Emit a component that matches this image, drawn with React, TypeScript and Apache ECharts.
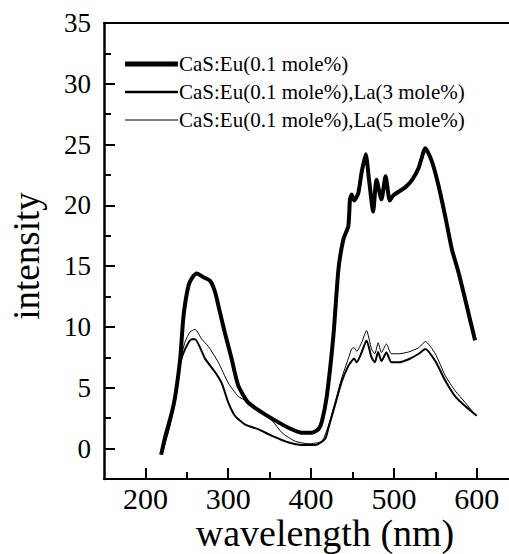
import React, { useEffect, useRef } from "react";
import * as echarts from "echarts";

const wavelengthEu = [219, 224, 232, 236, 242, 246, 252, 258, 262, 270, 278, 284, 290, 296, 304, 312, 324, 340, 357, 373, 389, 401, 409, 413, 419, 427, 433, 439, 445, 447, 449, 452, 457, 461, 466, 470, 475, 479, 485, 490, 495, 499, 514, 522, 530, 538, 546, 554, 562, 570, 578, 586, 592, 598];
const intensityEu = [-0.5, 1.0, 3.0, 4.3, 7.4, 10.9, 13.4, 14.2, 14.4, 14.1, 13.8, 12.9, 11.2, 9.5, 7.4, 5.2, 3.8, 3.0, 2.3, 1.7, 1.3, 1.3, 1.6, 2.2, 4.3, 9.3, 14.7, 17.2, 18.3, 20.5, 20.9, 20.4, 21.0, 22.7, 24.2, 22.1, 19.5, 22.1, 20.5, 22.4, 20.4, 20.8, 21.5, 22.1, 23.1, 24.7, 23.6, 21.6, 19.1, 16.4, 14.5, 12.3, 10.6, 8.9];

const wavelengthLa3 = [219, 228, 236, 242, 248, 256, 260, 272, 284, 292, 300, 308, 320, 336, 353, 373, 389, 405, 417, 421, 429, 437, 445, 449, 452, 455, 461, 467, 473, 477, 481, 485, 491, 497, 506, 518, 530, 538, 550, 562, 574, 586, 600];
const intensityLa3 = [-0.5, 1.6, 4.1, 7.0, 8.2, 9.0, 9.0, 7.4, 6.3, 5.4, 3.8, 2.7, 2.0, 1.6, 1.05, 0.5, 0.3, 0.3, 0.8, 1.7, 3.6, 5.5, 6.8, 7.2, 7.4, 7.1, 7.9, 8.9, 7.5, 7.1, 7.95, 7.2, 7.9, 7.1, 7.1, 7.35, 7.8, 8.2, 7.2, 5.6, 4.3, 3.5, 2.7];

const wavelengthLa5 = [219, 228, 236, 242, 248, 254, 260, 268, 276, 288, 300, 312, 322, 340, 353, 365, 381, 397, 413, 421, 429, 437, 445, 449, 452, 455, 461, 467, 473, 477, 481, 485, 491, 497, 506, 518, 530, 538, 550, 562, 574, 586, 598];
const intensityLa5 = [-0.5, 1.6, 4.1, 7.2, 8.8, 9.6, 9.8, 9.0, 8.4, 7.1, 5.4, 4.3, 3.9, 3.0, 2.3, 1.3, 0.6, 0.4, 0.6, 1.9, 3.8, 5.8, 7.4, 8.2, 8.3, 8.0, 8.7, 9.7, 8.2, 7.8, 8.7, 7.9, 8.6, 7.8, 7.8, 7.95, 8.3, 8.8, 7.8, 6.0, 4.75, 3.8, 2.8];

const seriesNames = [
  "CaS:Eu(0.1 mole%)",
  "CaS:Eu(0.1 mole%),La(3 mole%)",
  "CaS:Eu(0.1 mole%),La(5 mole%)",
];
const xMajorTicks = [200, 300, 400, 500, 600];
const xMinorTicks = [250, 350, 450, 550];
const yMajorTicks = [0, 5, 10, 15, 20, 25, 30, 35];
const yMinorTicks = [-2.5, 2.5, 7.5, 12.5, 17.5, 22.5, 27.5, 32.5];

const FONT = "serif";

function pairs(xs: number[], ys: number[]) {
  return xs.map((x, i) => [x, ys[i]]);
}

export default function App() {
  const ref = useRef<HTMLDivElement>(null);
  useEffect(() => {
    if (!ref.current) return;
    const chart = echarts.init(ref.current, undefined, { renderer: "svg" });
    const xMin = 150;
    const xMax = 639;
    const yMin = -2.5;
    const yMax = 35;
    const widths = [4, 2, 1];
    const legendWidths = [5, 2.5, 1];
    const legendY = [64, 92, 120];
    const dataSets = [
      pairs(wavelengthEu, intensityEu),
      pairs(wavelengthLa3, intensityLa3),
      pairs(wavelengthLa5, intensityLa5),
    ];
    const graphics: any[] = [];
    seriesNames.forEach((n, i) => {
      graphics.push({
        type: "line",
        shape: { x1: 125, y1: legendY[i], x2: 178, y2: legendY[i] },
        style: { stroke: "#000", lineWidth: legendWidths[i] },
      });
      graphics.push({
        type: "text",
        x: 179,
        y: legendY[i],
        style: { text: n, fontFamily: FONT, fontSize: 21, fill: "#000", verticalAlign: "middle", align: "left" },
      });
    });
    graphics.push({
      type: "text",
      x: 26,
      y: 256,
      rotation: Math.PI / 2,
      style: { text: "intensity", fontFamily: FONT, fontSize: 37, fill: "#000", align: "center", verticalAlign: "middle" },
    });
    graphics.push({
      type: "text",
      x: 325,
      y: 533,
      style: { text: "wavelength (nm)", fontFamily: FONT, fontSize: 38, fill: "#000", align: "center", verticalAlign: "middle" },
    });

    chart.setOption({
      animation: false,
      backgroundColor: "#fff",
      textStyle: { fontFamily: FONT },
      grid: { left: 104, top: 23, right: 0, bottom: 554 - 479, containLabel: false },
      xAxis: [
        {
          type: "value", min: xMin, max: xMax, position: "bottom",
          axisLine: { show: true, onZero: false, lineStyle: { color: "#000", width: 2 } },
          axisTick: { show: true, inside: true, length: 11, customValues: xMajorTicks, lineStyle: { color: "#000", width: 2 } },
          axisLabel: { show: true, customValues: xMajorTicks, color: "#000", fontSize: 30, fontFamily: FONT, margin: 4 },
          splitLine: { show: false },
        },
        {
          type: "value", min: xMin, max: xMax, position: "bottom",
          axisLine: { show: false, onZero: false },
          axisTick: { show: true, inside: true, length: 7, customValues: xMinorTicks, lineStyle: { color: "#000", width: 2 } },
          axisLabel: { show: false },
          splitLine: { show: false },
        },
        {
          type: "value", min: xMin, max: xMax, position: "top",
          axisLine: { show: true, onZero: false, lineStyle: { color: "#000", width: 2 } },
          axisTick: { show: false },
          axisLabel: { show: false },
          splitLine: { show: false },
        },
      ],
      yAxis: [
        {
          type: "value", min: yMin, max: yMax, position: "left",
          axisLine: { show: true, onZero: false, lineStyle: { color: "#000", width: 2.5 } },
          axisTick: { show: true, inside: true, length: 11, customValues: yMajorTicks, lineStyle: { color: "#000", width: 2 } },
          axisLabel: { show: true, customValues: yMajorTicks, color: "#000", fontSize: 27, fontFamily: FONT, margin: 13 },
          splitLine: { show: false },
        },
        {
          type: "value", min: yMin, max: yMax, position: "left",
          axisLine: { show: false, onZero: false },
          axisTick: { show: true, inside: true, length: 7, customValues: yMinorTicks, lineStyle: { color: "#000", width: 2 } },
          axisLabel: { show: false },
          splitLine: { show: false },
        },
      ],
      series: dataSets.map((d, i) => ({
        name: seriesNames[i],
        type: "line",
        xAxisIndex: 0,
        yAxisIndex: 0,
        data: d,
        showSymbol: false,
        symbol: "none",
        smooth: 0.2,
        lineStyle: { color: "#000", width: widths[i] },
        z: 3 - i,
      })),
      graphic: graphics,
    });
    return () => chart.dispose();
  }, []);
  return (
    <div
      ref={ref}
      style={{ position: "fixed", left: 0, top: 0, width: 509, height: 554, background: "#fff" }}
    />
  );
}
